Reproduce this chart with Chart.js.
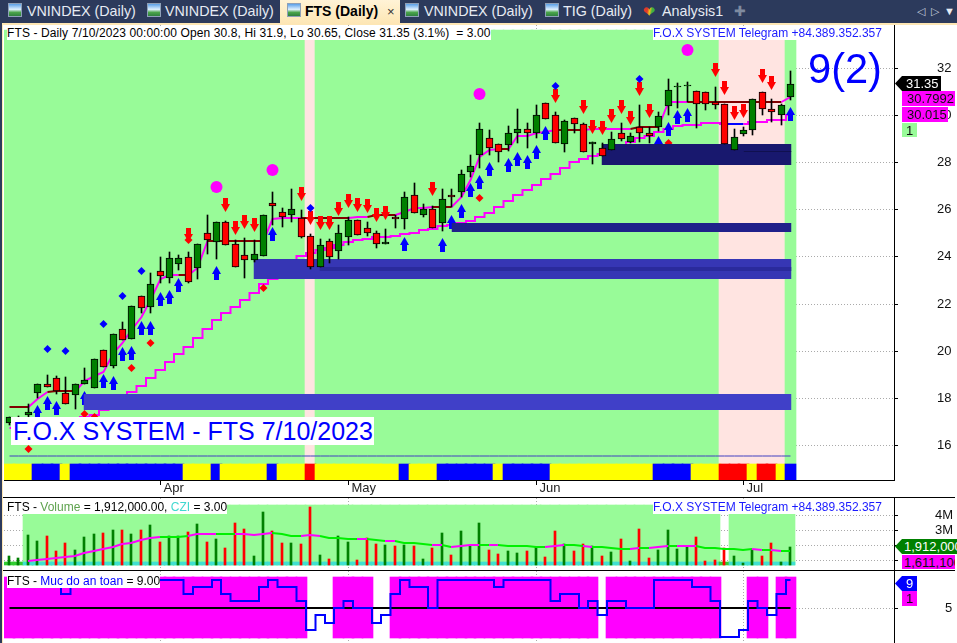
<!DOCTYPE html>
<html>
<head>
<meta charset="utf-8">
<title>FTS Daily</title>
<script src="https://cdn.jsdelivr.net/npm/chart.js@4"></script>
<style>
  html, body { margin: 0; padding: 0; background: #2c3a5c; width: 957px; height: 643px; overflow: hidden; font-family: "Liberation Sans", Arial, sans-serif; }
  #paper { position: absolute; left: 3px; top: 25px; width: 954px; height: 618px; background: #fff; }
  #edgeTop { position: absolute; left: 2px; top: 23px; width: 955px; height: 2px; background: #fde6b4; }
  #edgeLeft { position: absolute; left: 2px; top: 23px; width: 1px; height: 620px; background: #fde6b4; }
  canvas { position: absolute; left: 0; }
  .tab { position: absolute; top: 3px; color: #e6ebf3; font-size: 14.3px; line-height: 17px; white-space: nowrap; }
  .ico { position: absolute; top: 3px; width: 14px; height: 14px; box-sizing: border-box; border: 1px solid #8fa0b8; background: linear-gradient(#5aa0e8 0, #dff0ff 45%, #4aa54a 70%, #2f7f3f 100%); }
  #active { position: absolute; left: 280px; top: 0; width: 120px; height: 24px; background: linear-gradient(#fff3d6, #fde6b4); }
  .lbl { position: absolute; background: #fff; font-size: 12px; line-height: 14px; white-space: pre; color: #000; }
  .tag { position: absolute; font-size: 13px; line-height: 15px; white-space: nowrap; overflow: hidden; box-sizing: border-box; }
  .rule { position: absolute; left: 3px; height: 1px; background: #000; }
</style>
</head>
<body>
<div id="paper"></div>
<div id="edgeTop"></div>
<div id="edgeLeft"></div>

<div id="active"></div>
<div class="ico" style="left:8px"></div><div class="tab" style="left:27px">VNINDEX (Daily)</div>
<div class="ico" style="left:147px"></div><div class="tab" style="left:165px">VNINDEX (Daily)</div>
<div class="ico" style="left:287px"></div><div class="tab" style="left:305px;color:#000;font-weight:bold;font-size:14px">FTS (Daily)</div>
<div class="tab" style="left:387px;color:#333;font-size:13px">×</div>
<div class="ico" style="left:405px"></div><div class="tab" style="left:424px">VNINDEX (Daily)</div>
<div class="ico" style="left:545px"></div><div class="tab" style="left:563px">TIG (Daily)</div>
<div class="tab" style="left:643px;font-size:15px;color:transparent;background:linear-gradient(100deg,#e03a2a 35%,#f0c020 50%,#40b040 65%);-webkit-background-clip:text;background-clip:text">❤</div><div class="tab" style="left:662px">Analysis1</div>
<div class="tab" style="left:734px;color:#7f8ba0;font-size:14px">✚</div>
<div class="tab" style="left:917px;color:#c8d0dc;font-size:11px">◁</div>
<div class="tab" style="left:931px;color:#c8d0dc;font-size:11px">▷</div>
<div class="tab" style="left:944px;color:#e6ebf3;font-size:11px">▼</div>

<canvas id="priceChart" width="957" height="472" style="top:25px"></canvas>
<canvas id="volumeChart" width="957" height="72" style="top:498px"></canvas>
<canvas id="safetyChart" width="957" height="72" style="top:571px"></canvas>

<div class="rule" style="top:497px;width:952px"></div>
<div class="rule" style="top:570px;width:952px"></div>

<div class="lbl" style="left:7px;top:26px;letter-spacing:0.11px">FTS - Daily 7/10/2023 00:00:00 Open 30.8, Hi 31.9, Lo 30.65, Close 31.35 (3.1%)  = 3.00</div>
<div class="lbl" style="left:653px;top:26px;color:#1a1aff">F.O.X SYSTEM Telegram +84.389.352.357</div>
<div style="position:absolute;left:808px;top:45px;font-size:41.6px;line-height:47px;color:#0000ff">9(2)</div>
<div class="lbl" style="left:11px;top:417px;font-size:25px;line-height:28px;color:#0000ff;padding:0 1px 0 2px">F.O.X SYSTEM - FTS 7/10/2023</div>

<div class="lbl" style="left:7px;top:500px">FTS - <span style="color:#5ea24e">Volume</span> = 1,912,000.00, <span style="color:#40d8d0">CZI</span> = 3.00</div>
<div class="lbl" style="left:653px;top:500px;color:#1a1aff">F.O.X SYSTEM Telegram +84.389.352.357</div>
<div class="lbl" style="left:7px;top:574px">FTS - <span style="color:#0000ff">Muc do an toan</span> = 9.00</div>

<div class="tag" style="left:895px;top:76px;width:46px;height:15px;background:#000;color:#fff;padding-left:11px;clip-path:polygon(0 50%,7px 0,100% 0,100% 100%,7px 100%)">31.35</div>
<div class="tag" style="left:902px;top:91px;width:53px;height:15px;background:#ff00ff;color:#111;padding-left:5px">30.7992</div>
<div class="tag" style="left:902px;top:107px;width:46px;height:15px;background:#ff00ff;color:#111;padding-left:5px">30.015</div>
<div class="tag" style="left:902px;top:123px;width:15px;height:14px;background:#98fb98;color:#111;padding-left:4px">1</div>
<div class="tag" style="left:895px;top:539px;width:62px;height:15px;background:#008000;color:#fff;padding-left:9px;clip-path:polygon(0 50%,7px 0,100% 0,100% 100%,7px 100%)">1,912,000</div>
<div class="tag" style="left:902px;top:555px;width:53px;height:14px;background:#ff00ff;color:#111;padding-left:2px">1,611,100</div>
<div class="tag" style="left:895px;top:576px;width:22px;height:15px;background:#0000ff;color:#fff;padding-left:11px;clip-path:polygon(0 50%,7px 0,100% 0,100% 100%,7px 100%)">9</div>
<div class="tag" style="left:902px;top:591px;width:15px;height:15px;background:#ff00ff;color:#111;padding-left:4px">1</div>

<script>
// -----------------------
// Data (84 daily bars, Mar 2023 - 10 Jul 2023)
// -----------------------
const openVals = [16.93,16.95,17.27,18.20,18.56,18.82,18.18,18.11,18.59,18.39,20.01,19.36,20.90,20.50,22.30,21.86,23.37,23.10,23.67,23.96,23.52,25.00,24.63,25.45,24.52,24.06,23.86,24.03,26.26,25.88,25.75,25.62,24.86,23.54,24.64,24.22,24.81,25.54,25.20,24.98,24.52,25.66,25.58,26.60,25.78,26.01,25.41,26.60,26.75,27.60,28.30,29.02,28.77,28.73,29.24,29.41,29.24,30.51,30.00,28.77,29.87,29.62,28.77,28.60,28.51,29.24,28.88,29.52,29.24,29.52,30.38,31.20,31.25,31.02,30.98,30.57,30.48,28.51,29.22,29.36,30.98,30.26,30.00,30.80];
const highVals = [17.16,17.23,17.73,18.56,18.96,18.92,18.87,18.56,19.24,19.63,20.01,20.69,21.20,21.88,22.30,23.28,23.96,24.18,24.06,24.18,24.52,25.76,25.45,25.51,24.70,24.78,24.70,25.76,26.75,26.06,26.86,25.97,24.94,24.73,24.73,25.34,25.69,25.54,25.45,25.07,25.15,25.76,26.73,27.11,26.22,26.16,26.86,26.86,27.66,28.30,29.66,29.36,28.77,29.53,30.26,29.66,30.43,30.51,30.13,29.80,29.87,29.67,28.85,28.81,29.30,29.66,29.25,30.44,29.52,30.14,31.54,31.36,31.40,31.02,30.98,31.19,30.48,29.42,29.52,30.68,30.98,30.69,30.48,31.90];
const lowVals = [16.83,16.80,17.19,17.97,18.46,18.15,17.74,17.51,18.59,18.39,19.31,19.26,20.46,20.50,21.61,21.61,22.86,22.86,23.42,22.88,23.05,24.10,23.89,24.50,23.56,23.10,23.78,24.03,25.34,25.26,25.48,24.78,23.45,23.54,23.73,23.88,24.49,24.90,24.88,24.37,24.52,25.22,25.17,25.86,25.69,25.20,25.10,26.12,26.54,27.39,27.77,28.31,28.03,28.50,28.81,28.62,29.05,29.86,28.81,28.45,29.26,28.43,27.94,28.28,28.51,28.90,28.81,28.88,28.84,29.35,30.01,30.30,30.58,29.47,30.23,30.27,28.79,28.51,29.12,29.16,30.01,29.73,29.59,30.65];
const closeVals = [17.16,17.05,17.37,18.56,18.46,18.29,17.74,18.56,18.73,19.63,19.31,20.69,20.46,21.88,21.82,22.82,23.18,23.92,23.92,22.93,24.52,24.70,25.45,24.50,23.56,23.86,24.09,25.76,26.15,25.69,26.01,24.84,23.54,24.47,23.99,24.98,25.54,24.90,24.98,24.52,24.60,25.58,26.52,25.86,26.01,25.20,26.43,26.51,27.49,27.83,29.41,28.60,28.43,29.24,29.41,29.24,30.00,29.86,28.81,29.75,29.62,28.43,28.85,28.28,28.99,28.98,29.12,29.24,29.12,29.98,31.06,31.25,31.29,30.49,30.49,30.45,28.79,29.07,29.36,30.68,30.26,30.13,30.43,31.35];

const upperLine = [17.61,17.61,17.61,17.94,18.25,18.29,18.29,18.29,18.72,18.92,19.10,19.90,20.32,20.87,21.44,22.15,23.04,23.21,23.21,23.22,23.51,24.66,24.66,24.66,24.66,24.66,24.66,24.66,25.58,25.62,25.62,25.62,25.65,25.65,25.65,25.65,25.65,25.69,25.69,25.76,25.76,25.76,25.89,26.05,26.05,26.12,26.12,26.12,26.54,27.25,28.24,28.53,28.58,28.58,29.12,29.12,29.26,29.30,29.38,29.38,29.38,29.38,29.43,29.43,29.43,29.43,29.43,29.52,29.52,29.52,30.58,30.58,30.58,30.58,30.58,30.58,30.58,30.58,30.58,30.58,30.58,30.58,30.58,30.79];
const upperState = 'DD MM DDD MMMMMMMMMMM D MM DDDDDD MMMM DDDDD MM DDD MMMM DD MMMMM D MMMMM DDD MMMMM DDD MMM DDDDDDDDDD MM'.replace(/ /g, '').split('');
const lowerLine = [16.72,16.79,16.84,16.88,16.92,16.98,17.05,17.13,17.19,17.26,17.47,17.81,18.07,18.22,18.50,18.85,19.18,19.53,19.85,20.16,20.55,20.93,21.30,21.61,21.86,22.16,22.46,22.84,23.04,23.42,23.76,24.02,24.13,24.27,24.35,24.49,24.63,24.70,24.74,24.81,24.84,24.88,24.94,25.01,25.12,25.17,25.31,25.34,25.44,25.52,25.69,25.86,26.12,26.37,26.62,26.84,27.05,27.30,27.52,27.77,28.03,28.16,28.28,28.36,28.51,28.70,28.88,29.02,29.13,29.30,29.42,29.55,29.57,29.59,29.69,29.69,29.64,29.64,29.64,29.70,29.70,29.80,29.80,30.015];
const floorLine = 15.53;

const ribbon = 'YYY BBB Y BBBBBBBBBBBB YYY B YYYYY B YYY R YYYYYYYYY B YYY BBBBBB Y BBBBB YYYYYYYYYYY BBBB YYY RRR Y RR Y B'.replace(/ /g, '').split('');
const pinkBars = [32, 76, 77, 78, 79, 80, 81, 82];

const zoneStart = [7.9, 25.9, 32.9, 47.0, 62.9, 78.0];
const zoneEnd = [83.1, 83.1, 83.1, 83.1, 83.1, 83.1];
const zoneHigh = [18.15, 23.89, 23.54, 25.42, 28.78, 28.47];
const zoneLow = [17.47, 23.04, 23.39, 25.05, 27.89, 28.43];

const redArrowBars = [19,23,24,25,26,31,32,33,34,35,36,37,38,39,40,45,58,61,62,63,64,65,66,67,68,75,76,77,78,80,81];
const redArrowPrices = [24.91,26.17,25.20,25.45,25.32,26.64,25.62,25.42,25.42,26.02,26.36,26.19,26.15,25.76,25.85,26.87,30.82,30.35,29.50,29.46,29.97,30.35,29.89,31.12,30.18,31.92,31.16,30.10,30.18,31.67,31.38];
const blueArrowBars = [3,4,5,8,10,11,12,13,14,15,16,17,18,22,28,42,46,47,48,49,50,51,53,54,55,56,57,69,70,71,72,83];
const blueArrowPrices = [17.40,17.78,17.54,17.98,18.72,18.61,19.84,19.91,20.97,20.97,22.20,22.26,22.80,23.28,24.97,24.54,24.47,25.45,25.92,26.81,27.15,27.70,27.88,28.13,28.00,28.43,29.24,28.82,29.41,29.93,30.00,30.07];
const blueDotBars = [4,6,10,12,14,32,58,67];
const blueDotPrices = [20.06,19.98,21.13,22.32,23.38,26.06,31.25,31.55];
const redDotBars = [2,8,9,13,15,19,27,50,70];
const redDotPrices = [15.81,17.30,17.17,19.26,20.32,24.70,22.66,26.49,28.82];
const circleBars = [22,28,50,72];
const circlePrices = [26.94,27.66,30.89,32.77];

const volumeVals = [1.28,1.13,2.67,2.28,2.61,1.62,2.14,1.68,2.54,2.74,2.81,3.01,3.01,2.74,3.01,3.34,2.21,2.61,2.61,2.87,3.40,2.21,2.41,1.81,3.47,3.07,1.28,4.20,2.94,2.14,2.14,2.08,4.53,1.35,1.08,2.61,2.21,1.02,2.48,2.08,2.01,1.95,2.01,1.95,1.08,1.81,2.81,1.35,2.94,1.95,3.47,1.68,1.42,1.62,1.48,1.62,1.88,1.22,2.94,2.08,1.62,2.08,1.95,1.28,1.55,2.41,0.95,3.07,1.15,1.68,3.01,1.75,1.88,2.54,0.95,1.02,1.81,1.28,0.82,1.68,1.28,2.14,0.89,1.912];
const volumeAvg = [null,null,0.95,1.02,1.06,1.17,1.24,1.31,1.46,1.61,1.75,1.90,2.06,2.17,2.32,2.45,2.54,2.56,2.56,2.61,2.74,2.76,2.76,2.76,2.76,2.76,2.67,2.74,2.81,2.72,2.63,2.63,2.70,2.63,2.50,2.50,2.43,2.43,2.41,2.32,2.28,2.28,2.17,2.14,2.06,2.01,2.01,1.90,1.97,2.01,2.01,2.01,2.01,1.97,1.97,1.97,1.90,1.90,1.97,2.03,2.01,1.97,1.90,1.90,1.84,1.77,1.75,1.84,1.84,1.86,1.97,1.97,1.97,1.97,1.84,1.84,1.75,1.75,1.70,1.75,1.68,1.68,1.61,1.611];
const volumeState = 'LL MMMMMMMMMMMMMM LLL MMM LL MMMM LLL MM LLLL M LL M LLLL M L MMM L M LLLLL MM LL M LLLL M L MM L MM LLLLLL M L M L M'.replace(/ /g, '').split('');
const volumeGapBars = [0, 1, 76];

const safetyVals = [8,8,8,9,9,9,7,9,9,9,9,9,9,9,9,9,9,9,9,7,8,8,9,7,6,6,6,8,9,8,8,6,2,4,3,5,6,5,5,3,4,7,9,8,8,5,9,9,9,9,9,9,8,9,9,9,9,9,6,7,7,5,6,4,6,6,5,5,5,9,9,9,9,8,8,6,1,1,2,6,5,4,7,9];
const safetyMid = 5;

const priceTicks = [16, 18, 20, 22, 24, 26, 28, 30, 32];
const volumeTicks = [1, 2, 3, 4];
const safetyTicks = [5];
const monthTicks = [16, 36, 56, 78];
const monthLabels = ['Apr', 'May', 'Jun', 'Jul'];

// -----------------------
// Colours and helpers
// -----------------------
const GREEN = '#008000', RED = '#ff0000', MAGENTA = '#ff00ff', LIME = '#00f000';
const BG_GREEN = '#98fb98', BG_PINK = '#ffe4e1';
const RIBBON = { Y: '#ffff00', B: '#0000ff', R: '#ff0000' };
const ZONE = ['#4040c8', '#3636b4', '#2a2a9c', '#20208a', '#18186e', '#101050'];
const FONT = { family: '"Liberation Sans", Arial, sans-serif', size: 13 };

// Big markers would otherwise push the plot area in from every side
Chart.registry.getController('line').prototype.getMaxOverflow = () => 0;

const bars = closeVals.map((_, i) => i);
const isUp = i => closeVals[i] >= openVals[i];
const line = vals => vals.map((y, x) => ({ x, y }));
const markers = (xs, ys) => xs.map((x, i) => ({ x, y: ys[i] }));

// Snap pixels so bars come out crisp like the original terminal
function snap(offset) {
  return (scale) => {
    if (scale._snapped) return;
    scale._snapped = true;
    const raw = scale.getPixelForValue.bind(scale);
    scale.getPixelForValue = (v, i) => Math.round(raw(v, i)) + offset;
  };
}

function arrowImage(color, up) {
  const c = document.createElement('canvas');
  c.width = 9; c.height = 14;
  const g = c.getContext('2d');
  g.fillStyle = color;
  if (!up) { g.translate(0, 14); g.scale(1, -1); }
  g.beginPath();
  g.moveTo(4.5, 0); g.lineTo(9, 8); g.lineTo(7, 8); g.lineTo(7, 14);
  g.lineTo(2, 14); g.lineTo(2, 8); g.lineTo(0, 8);
  g.closePath();
  g.fill();
  return c;
}

function xAxis(offset, showLabels) {
  return {
    type: 'linear',
    offset: false,
    min: -0.531,
    max: 94.05,
    afterBuildTicks: (s) => { s.ticks = monthTicks.map((value) => ({ value })); },
    afterFit: (s) => { s.height = showLabels ? 17 : 0; },
    afterUpdate: snap(offset),
    border: { display: showLabels, color: '#000', dash: [1, 2] },
    grid: { offset: false, color: '#aaa', tickColor: '#000', tickBorderDash: [], tickLength: 5, drawTicks: showLabels },
    ticks: {
      display: showLabels,
      autoSkip: false,
      maxRotation: 0,
      align: 'start',
      labelOffset: 3,
      padding: -4,
      color: '#222',
      font: FONT,
      callback: (v) => monthLabels[monthTicks.indexOf(v)],
    },
  };
}

function yAxis(min, max, tickVals, pad, label) {
  return {
    type: 'linear',
    position: 'right',
    min,
    max,
    afterBuildTicks: (s) => { s.ticks = tickVals.map((value) => ({ value })); },
    afterFit: (s) => { s.width = 63; s.paddingTop = 0; s.paddingBottom = 0; },
    afterUpdate: snap(0),
    border: { color: '#000', dash: [1, 2] },
    grid: { color: '#aaa', tickColor: '#000', tickBorderDash: [], tickLength: 4 },
    ticks: { crossAlign: 'near', padding: pad, color: '#111', font: FONT, autoSkip: false, callback: label },
  };
}

const barSet = (data, color, thickness, order, extra) => Object.assign({
  type: 'bar', data, backgroundColor: color, barThickness: thickness, grouped: false, order, borderWidth: 0,
}, extra || {});

const lineSet = (data, color, width, order, extra) => Object.assign({
  type: 'line', data, borderColor: color, borderWidth: width, pointRadius: 0, tension: 0, fill: false, order,
}, extra || {});

const pointSet = (data, style, radius, color, order) => ({
  type: 'line', data, showLine: false, pointStyle: style, pointRadius: radius,
  pointBackgroundColor: color, pointBorderWidth: 0, pointBorderColor: color, order,
});

const baseOptions = (scales) => ({
  responsive: false,
  animation: false,
  events: [],
  layout: { padding: { left: 4, right: 0, top: 0, bottom: 0 } },
  plugins: { legend: { display: false }, tooltip: { enabled: false } },
  scales,
});

// -----------------------
// Price pane
// -----------------------
const priceMin = 14.496, priceMax = 33.841, paneTop = 33.63, ribbonTop = 15.17;

const zoneSets = [];
zoneStart.forEach((x0, z) => {
  zoneSets.push(lineSet([{ x: x0, y: zoneHigh[z] }, { x: zoneEnd[z], y: zoneHigh[z] }], 'transparent', 0, 40 - z, { fill: '+1', backgroundColor: ZONE[z] }));
  zoneSets.push(lineSet([{ x: x0, y: zoneLow[z] }, { x: zoneEnd[z], y: zoneLow[z] }], 'transparent', 0, 40 - z));
});

new Chart(document.getElementById('priceChart'), {
  type: 'bar',
  data: {
    datasets: [
      barSet(bars.map((x) => ({ x, y: [priceMin, paneTop] })), bars.map((i) => pinkBars.includes(i) ? BG_PINK : BG_GREEN), 11, 100),
      barSet(bars.map((x) => ({ x, y: [priceMin, ribbonTop] })), ribbon.map((k) => RIBBON[k]), 11, 99),
      lineSet(line(bars.map(() => floorLine)), '#4040c0', 1, 90),
      lineSet(line(lowerLine), MAGENTA, 2, 80, {
        stepped: 'middle',
        segment: { borderColor: (ctx) => (ctx.p0DataIndex >= 76 && ctx.p0DataIndex <= 77) ? '#0000ff' : MAGENTA },
      }),
      lineSet(line(upperLine), MAGENTA, 2, 79, {
        segment: { borderColor: (ctx) => upperState[ctx.p0DataIndex] === 'D' ? '#800000' : MAGENTA },
      }),
      pointSet(markers(redArrowBars, redArrowPrices), arrowImage(RED, false), 5, RED, 60),
      pointSet(markers(blueArrowBars, blueArrowPrices), arrowImage('#0000ff', true), 5, '#0000ff', 59),
      pointSet(markers(blueDotBars, blueDotPrices), 'rectRot', 4, '#0000ff', 58),
      pointSet(markers(redDotBars, redDotPrices), 'rectRot', 4, RED, 57),
      pointSet(markers(circleBars, circlePrices), 'circle', 6, MAGENTA, 56),
      ...zoneSets,
      barSet(bars.map((x) => ({ x, y: [lowVals[x], highVals[x]] })), '#000', 1, 20),
      barSet(bars.map((x) => ({ x, y: [openVals[x], closeVals[x]] })), bars.map((i) => isUp(i) ? GREEN : RED), 7, 10, {
        borderColor: '#000', borderWidth: 1, borderSkipped: false,
      }),
    ],
  },
  options: baseOptions({
    x: xAxis(0.5, true),
    y: yAxis(priceMin, priceMax, priceTicks, 39, (v) => String(v)),
  }),
});

// -----------------------
// Volume pane
// -----------------------
const volMin = 0.358, volMax = 5.126, volFloor = 0.689, volBand = 0.907, volTop = 4.66;

new Chart(document.getElementById('volumeChart'), {
  type: 'bar',
  data: {
    datasets: [
      barSet(bars.filter((i) => !volumeGapBars.includes(i)).map((x) => ({ x, y: [volFloor, volTop] })), BG_GREEN, 10, 50),
      barSet(bars.map((x) => ({ x, y: [volFloor, volBand] })), bars.map((i) => volumeGapBars.includes(i) ? '#32cd32' : '#40e0d0'), 10, 40),
      barSet(bars.map((x) => ({ x, y: [volFloor, volumeVals[x]] })), bars.map((i) => isUp(i) ? GREEN : RED), 2, 20),
      lineSet(line(volumeAvg), LIME, 2, 10, {
        segment: { borderColor: (ctx) => volumeState[ctx.p0DataIndex] === 'M' ? MAGENTA : LIME },
      }),
    ],
  },
  options: baseOptions({
    x: xAxis(0, false),
    y: yAxis(volMin, volMax, volumeTicks, 37, (v) => v + 'M'),
  }),
});

// -----------------------
// Safety level pane
// -----------------------
const safetyMin = 0.106, safetyMax = 10.29, safetyBottom = 0.856, safetyTop = 9.44;

new Chart(document.getElementById('safetyChart'), {
  type: 'bar',
  data: {
    datasets: [
      barSet(bars.filter((i) => safetyVals[i] >= safetyMid).map((x) => ({ x, y: [safetyBottom, safetyTop] })), MAGENTA, 11, 30),
      lineSet(line(bars.map(() => safetyMid)), '#000', 2, 20),
      lineSet(line(safetyVals), '#0000ff', 2, 10, { stepped: 'middle' }),
    ],
  },
  options: baseOptions({
    x: xAxis(0.5, false),
    y: yAxis(safetyMin, safetyMax, safetyTicks, 47, (v) => String(v)),
  }),
});
</script>
</body>
</html>
